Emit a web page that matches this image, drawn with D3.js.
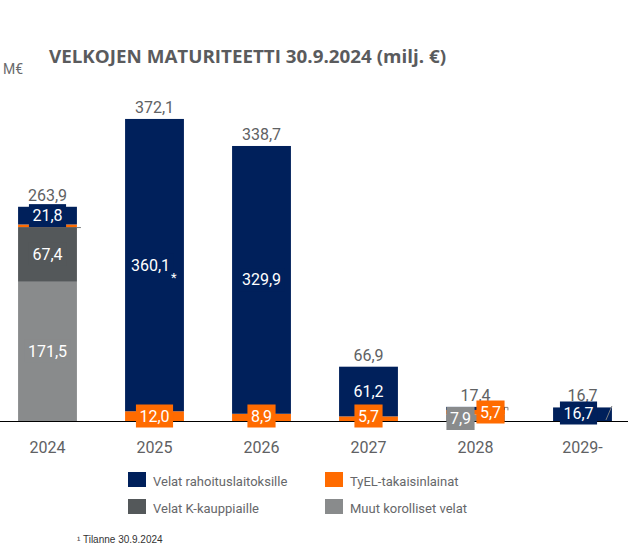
<!DOCTYPE html>
<html>
<head>
<meta charset="utf-8">
<script src="https://cdn.jsdelivr.net/npm/d3@7"></script>
<style>
  html, body { margin: 0; padding: 0; background: #ffffff; }
  svg { display: block; }
</style>
</head>
<body>
<div id="chart"></div>
<script>
// ---- data ----
const years = ["2024", "2025", "2026", "2027", "2028", "2029-"];
const rahoitus = [21.8, 360.1, 329.9, 61.2, 3.8, 16.7];     // Velat rahoituslaitoksille
const tyel = [3.2, 12.0, 8.9, 5.7, 5.7, 0];                 // TyEL-takaisinlainat
const kKauppiaille = [67.4, 0, 0, 0, 0, 0];                 // Velat K-kauppiaille
const muut = [171.5, 0, 0, 0, 7.9, 0];                      // Muut korolliset velat
const totals = [263.9, 372.1, 338.7, 66.9, 17.4, 16.7];
const seriesNames = ["Velat rahoituslaitoksille", "TyEL-takaisinlainat", "Velat K-kauppiaille", "Muut korolliset velat"];
const titleText = "VELKOJEN MATURITEETTI 30.9.2024 (milj. €)";
const unitText = "M€";
const footnoteText = "¹ Tilanne 30.9.2024";

// ---- style ----
const W = 628, H = 556;
const C = { rahoitus: "#00205b", tyel: "#ff6b00", k: "#54585a", muut: "#898b8c" };
const textGray = "#5b5c5e";
const FONT = "'Roboto', 'Noto Sans', sans-serif";

const svg = d3.select("#chart").append("svg").attr("width", W).attr("height", H);

const x = d3.scaleBand().domain(years).range([-6, 636]).paddingInner(0.45).paddingOuter(0.225);
const y = d3.scaleLinear().domain([0, 400]).range([421, 96.3]);

const keys = ["muut", "k", "tyel", "rahoitus"];
const rows = years.map((yr, i) => ({ year: yr, muut: muut[i], k: kKauppiaille[i], tyel: tyel[i], rahoitus: rahoitus[i] }));
const stack = d3.stack().keys(keys)(rows);

// bars
const g = svg.append("g");
stack.forEach(layer => {
  g.selectAll(null).data(layer.filter(d => d[1] - d[0] > 0)).join("rect")
    .attr("x", d => x(d.data.year))
    .attr("width", x.bandwidth())
    .attr("y", d => y(d[1]))
    .attr("height", d => y(d[0]) - y(d[1]))
    .attr("fill", C[layer.key]);
});

// leader lines (small)
const bw = x.bandwidth();
const lead = svg.append("g").attr("stroke", "#7d7f81").attr("stroke-width", 1).attr("fill", "none");
lead.append("path").attr("d", `M${x("2024") + bw},${y(muut[0] + kKauppiaille[0]) + 0.5}h4`);
lead.append("path").attr("d", `M${x("2028") + bw},${y(totals[4]) + 0.5}h3v3`);
lead.append("path").attr("d", `M${x("2029-") + bw - 6},${y(0) - 1}l6,-14`);

// axis line
svg.append("line").attr("x1", 0).attr("x2", W).attr("y1", y(0) + 0.5).attr("y2", y(0) + 0.5)
  .attr("stroke", "#000").attr("stroke-width", 1);

// x axis labels
const xAxis = svg.append("g").attr("transform", `translate(0,${y(0)})`)
  .call(d3.axisBottom(x).tickSize(0).tickPadding(0));
xAxis.select(".domain").remove();
xAxis.selectAll("text").attr("dy", null).attr("y", 32)
  .attr("font-family", FONT).attr("font-size", 16).attr("fill", "#606163");

// total labels
svg.append("g").selectAll("text").data(years).join("text")
  .attr("x", d => x(d) + bw / 2)
  .attr("y", (d, i) => y(totals[i]) - 6)
  .attr("text-anchor", "middle")
  .attr("font-family", FONT).attr("font-size", 16).attr("fill", "#606163")
  .text((d, i) => totals[i].toFixed(1).replace(".", ","));

// segment labels
const fmt = v => v.toFixed(1).replace(".", ",");
const segLabels = [];
years.forEach((yr, i) => {
  const cx = x(yr) + bw / 2;
  if (muut[i] > 0) segLabels.push({ cx, cy: y(muut[i] / 2), v: muut[i], col: C.muut, type: "muut", i });
  if (kKauppiaille[i] > 0) segLabels.push({ cx, cy: y(muut[i] + kKauppiaille[i] / 2), v: kKauppiaille[i], col: C.k, type: "k", i });
  if (tyel[i] > 0 && i > 0) segLabels.push({ cx, cy: y(0) - 5, v: tyel[i], col: C.tyel, type: "tyel", i });
  if (rahoitus[i] > 5) segLabels.push({ cx, cy: y(muut[i] + kKauppiaille[i] + tyel[i] + rahoitus[i] / 2), v: rahoitus[i], col: C.rahoitus, type: "rahoitus", i });
});
// small-bar label placements (2028 / 2029-)
segLabels.forEach(d => {
  if (d.i === 4 && d.type === "muut") { d.cx -= 15; d.cy = y(0) - 2.5; }
  if (d.i === 4 && d.type === "tyel") { d.cx += 15; d.cy = y(0) - 9; }
  if (d.i === 5 && d.type === "rahoitus") { d.cx -= 4; d.cy = y(0) - 8; }
});

const lg = svg.append("g");
segLabels.forEach(d => {
  const t = lg.append("text")
    .attr("x", d.cx).attr("y", d.cy + 5.6)
    .attr("text-anchor", "middle")
    .attr("font-family", FONT).attr("font-size", 16).attr("fill", "#ffffff")
    .text(fmt(d.v));
  if (d.i === 1 && d.type === "rahoitus") t.attr("x", d.cx - 4);
  const bb = t.node().getBBox();
  lg.insert("rect", () => t.node())
    .attr("x", bb.x - 3.5).attr("width", bb.width + 7)
    .attr("y", d.cy - 11.5).attr("height", 23)
    .attr("fill", d.col);
  if (d.i === 1 && d.type === "rahoitus") {
    lg.append("text").attr("x", bb.x + bb.width + 1).attr("y", d.cy + 17)
      .attr("font-family", FONT).attr("font-size", 13).attr("fill", "#ffffff").text("*");
  }
});

// title and unit
svg.append("text").attr("x", 49).attr("y", 62.7)
  .attr("font-family", "'Open Sans', Lato, sans-serif").attr("font-weight", 700).attr("font-size", 17)
  .attr("textLength", 397).attr("lengthAdjust", "spacingAndGlyphs")
  .attr("fill", "#5a5b5d").text(titleText);
svg.append("text").attr("x", 3).attr("y", 74)
  .attr("font-family", FONT).attr("font-size", 14).attr("fill", "#6a6b6d").text(unitText);

// legend
const legendColors = [C.rahoitus, C.tyel, C.k, C.muut];
const leg = svg.append("g");
seriesNames.forEach((name, i) => {
  const col = i % 2, row = Math.floor(i / 2);
  const lx = 128 + col * 197, ly = 472 + row * 27;
  leg.append("rect").attr("x", lx).attr("y", ly).attr("width", 18).attr("height", 15).attr("fill", legendColors[i]);
  leg.append("text").attr("x", lx + 25).attr("y", ly + 13.5)
    .attr("font-family", FONT).attr("font-size", 13).attr("fill", "#66676a").text(name);
});

// footnote
svg.append("text").attr("x", 77).attr("y", 542.5)
  .attr("font-family", "'Liberation Sans', Arial, sans-serif").attr("font-size", 10).attr("fill", "#333").text(footnoteText);
</script>
</body>
</html>
